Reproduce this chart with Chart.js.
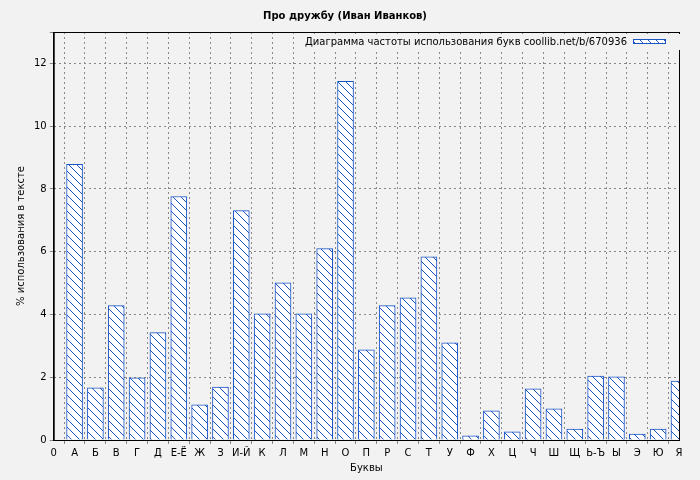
<!DOCTYPE html><html><head><meta charset="utf-8">
<script src="https://cdn.jsdelivr.net/npm/chart.js@4/dist/chart.umd.min.js"></script>
<style>html,body{margin:0;background:#f2f2f2}#w{width:700px;height:480px}</style></head><body><div id="w"><canvas id="c"></canvas></div>
<script>
const tickLabels=["0","А","Б","В","Г","Д","Е-Ё","Ж","З","И-Й","К","Л","М","Н","О","П","Р","С","Т","У","Ф","Х","Ц","Ч","Ш","Щ","Ь-Ъ","Ы","Э","Ю","Я"];
const letters=tickLabels.slice(1);
const percents=[8.78,1.66,4.28,1.98,3.42,7.76,1.12,1.69,7.31,4.02,5.01,4.02,6.10,11.43,2.87,4.28,4.53,5.84,3.10,0.13,0.93,0.26,1.63,0.99,0.35,2.04,2.01,0.19,0.35,1.88];
const seriesName="Диаграмма частоты использования букв coollib.net/b/670936";
function hatch(){const p=document.createElement('canvas');p.width=8;p.height=8;const g=p.getContext('2d');g.fillStyle='#fff';g.fillRect(0,0,8,8);g.strokeStyle='#1a55c8';g.lineWidth=1;g.beginPath();g.moveTo(0,0);g.lineTo(8,8);g.moveTo(-4,4);g.lineTo(4,12);g.moveTo(4,-4);g.lineTo(12,4);g.stroke();return g.createPattern(p,'repeat');}
const ctx=document.getElementById('c').getContext('2d');
const pat=hatch();
const F={family:'DejaVu Sans',size:10};
new Chart(ctx,{type:'bar',data:{datasets:[{label:seriesName,data:letters.map((l,i)=>({x:i+1,y:percents[i]})),backgroundColor:pat,borderColor:'#1a55c8',borderWidth:1,barThickness:16}]},
options:{responsive:true,maintainAspectRatio:false,animation:false,layout:{padding:{top:0,right:21,left:11,bottom:6}},
plugins:{title:{display:true,text:'Про дружбу (Иван Иванков)',color:'#000',font:F,padding:{top:10,bottom:10}},
legend:{display:false},tooltip:{enabled:false}},
scales:{x:{type:'linear',min:0,max:30,offset:false,ticks:{stepSize:1,autoSkip:false,maxRotation:0,color:'#000',font:F,callback:v=>tickLabels[v]},grid:{color:'#888',tickLength:4},border:{color:'#000',dash:[2,3]},title:{display:true,text:'Буквы',color:'#000',font:F,padding:0}},
y:{min:0,max:13,ticks:{stepSize:2,color:'#000',font:F,callback:v=>v%2===0?v:''},grid:{color:'#888',tickLength:4},border:{color:'#000',dash:[2,3]},title:{display:true,text:'% использования в тексте',color:'#000',font:F,padding:4}}}},
plugins:[{id:'frame',afterDraw(c){const a=c.chartArea,g=c.ctx;g.save();g.strokeStyle='#000';g.lineWidth=1;g.strokeRect(a.left+0.5,a.top+0.5,a.right-a.left,a.bottom-a.top);
g.font='10px "DejaVu Sans"';const tw=g.measureText(seriesName).width;const bx=a.right-46,by=a.top+6;
g.fillStyle='#f2f2f2';g.fillRect(bx-tw-12,a.top+2,tw+60,16);
g.fillStyle='#000';g.textAlign='right';g.textBaseline='middle';g.fillText(seriesName,bx-6,by+4);
g.fillStyle=pat;g.fillRect(bx,by+2,32,4);g.strokeStyle='#1a55c8';g.strokeRect(bx+0.5,by+1.5,32,4);g.restore();}}]});
</script></body></html>
